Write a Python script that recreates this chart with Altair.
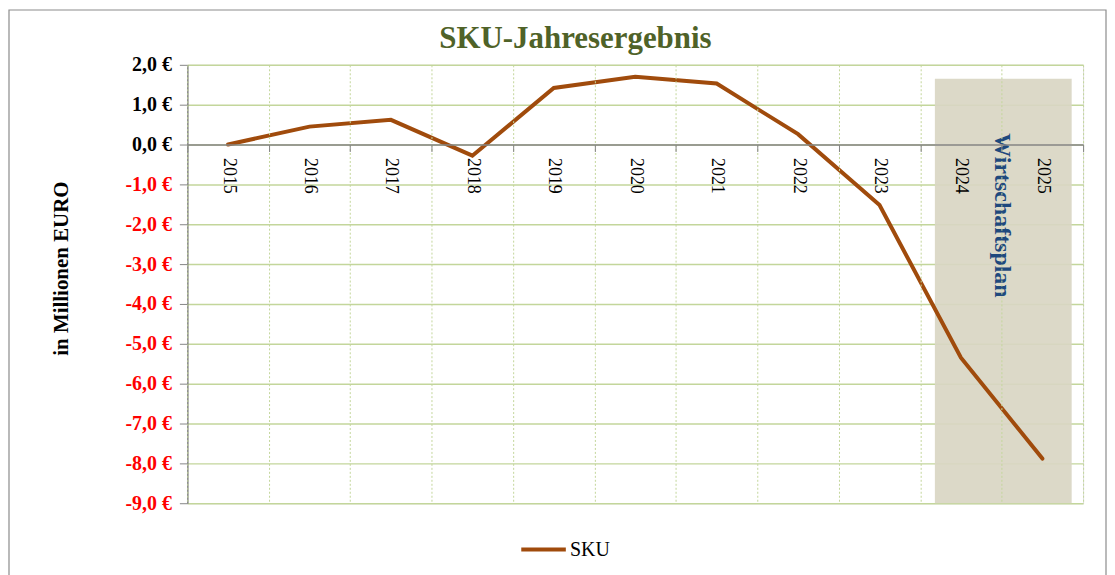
import altair as alt
import pandas as pd

# ---- data ----
years = ["2015", "2016", "2017", "2018", "2019", "2020", "2021", "2022", "2023", "2024", "2025"]
sku_values = [0.0, 0.45, 0.62, -0.28, 1.42, 1.70, 1.53, 0.26, -1.52, -5.35, -7.88]
series_name = "SKU"
plan_years = ["2024", "2025"]
plan_top = 1.65
plan_bottom = -9.0
plan_label = "Wirtschaftsplan"
plan_label_value = -1.78
y_ticks = [2, 1, 0, -1, -2, -3, -4, -5, -6, -7, -8, -9]

df = pd.DataFrame({"year": years, "value": sku_values, "series": series_name})
df_plan = pd.DataFrame({"start": [plan_years[0]], "end": [plan_years[1]],
                        "top": [plan_top], "bottom": [plan_bottom]})
df_label = pd.DataFrame({"year": [plan_years[0]], "value": [plan_label_value], "text": [plan_label]})

SERIF = "Liberation Serif"
GRID = "#C3D69B"
AXIS = "#868686"
BROWN = "#A04B0C"

x_scale = alt.Scale(domain=years, paddingInner=0, paddingOuter=0)
y_scale = alt.Scale(domain=[-9, 2], nice=False, zero=False)

x_axis = alt.Axis(
    title=None, orient="bottom", offset=-360, tickBand="extent",
    labelAngle=90, labelAlign="left", labelBaseline="middle",
    labelFont=SERIF, labelFontSize=18, labelColor="black", labelPadding=6,
    tickSize=7, tickColor=AXIS, domainColor=AXIS, domainWidth=1.5,
    grid=True, gridColor=GRID, gridDash=[2, 2], gridWidth=1,
)
y_axis = alt.Axis(
    title="in Millionen EURO", values=y_ticks,
    labelExpr="replace(replace(format(datum.value, '.1f'), '.', ','), '\u2212', '-') + ' €'",
    labelFont=SERIF, labelFontSize=20, labelFontWeight="bold",
    labelColor=alt.condition("datum.value < 0", alt.value("#FF0000"), alt.value("black")),
    labelPadding=8, tickSize=8, tickColor=AXIS, domainColor=AXIS, domainWidth=1.5,
    grid=True, gridColor=GRID, gridWidth=1.5,
    titleFont=SERIF, titleFontSize=21, titleFontWeight="bold", titleColor="black",
    titleAngle=-90, titleAlign="center", titleBaseline="middle",
    titleX=-126, titleY=204,
)

frame = alt.Chart(df_plan).mark_rect(
    fill=None, stroke="#8C8C8C", strokeWidth=1.2, clip=False
).encode(
    x=alt.value(-179), x2=alt.value(922), y=alt.value(-55), y2=alt.value(530)
)

band = alt.Chart(df_plan).mark_rect(color="#D9D6C3", opacity=0.92).encode(
    x=alt.X("start:O", scale=x_scale, axis=x_axis, bandPosition=0.18),
    x2=alt.X2("end", bandPosition=0.86),
    y=alt.Y("top:Q", scale=y_scale, axis=y_axis),
    y2="bottom:Q",
)

line = alt.Chart(df).mark_line(strokeWidth=4, strokeCap="round", strokeJoin="miter").encode(
    x=alt.X("year:O", scale=x_scale, axis=x_axis),
    y=alt.Y("value:Q", scale=y_scale, axis=y_axis),
    color=alt.Color("series:N", scale=alt.Scale(domain=[series_name], range=[BROWN]),
                    legend=alt.Legend(title=None, orient="none", legendX=333, legendY=462,
                                      symbolType="stroke", symbolSize=2000, symbolStrokeWidth=4,
                                      labelFont=SERIF, labelFontSize=20, labelColor="black",
                                      labelOffset=2)),
)

label = alt.Chart(df_label).mark_text(
    angle=90, align="center", baseline="middle", font=SERIF, fontSize=24,
    fontWeight="bold", color="#1F497D"
).encode(
    x=alt.X("year:O", scale=x_scale, axis=x_axis, bandPosition=1),
    y=alt.Y("value:Q", scale=y_scale, axis=y_axis),
    text="text:N",
)

chart = alt.layer(band, line, label, frame).properties(
    width=899, height=440,
    title=alt.TitleParams("SKU-Jahresergebnis", font=SERIF, fontSize=31, fontWeight="bold",
                          color="#4F6228", anchor="middle", dx=-60, offset=-46),
    autosize=alt.AutoSizeParams(type="none"),
    padding={"left": 180, "top": 56, "right": 24, "bottom": 71},
).configure_view(
    stroke=GRID, strokeDash=[2, 2], strokeWidth=1
).configure(background="white")

chart.save("out.html", embed_options={"renderer": "svg", "actions": False})
